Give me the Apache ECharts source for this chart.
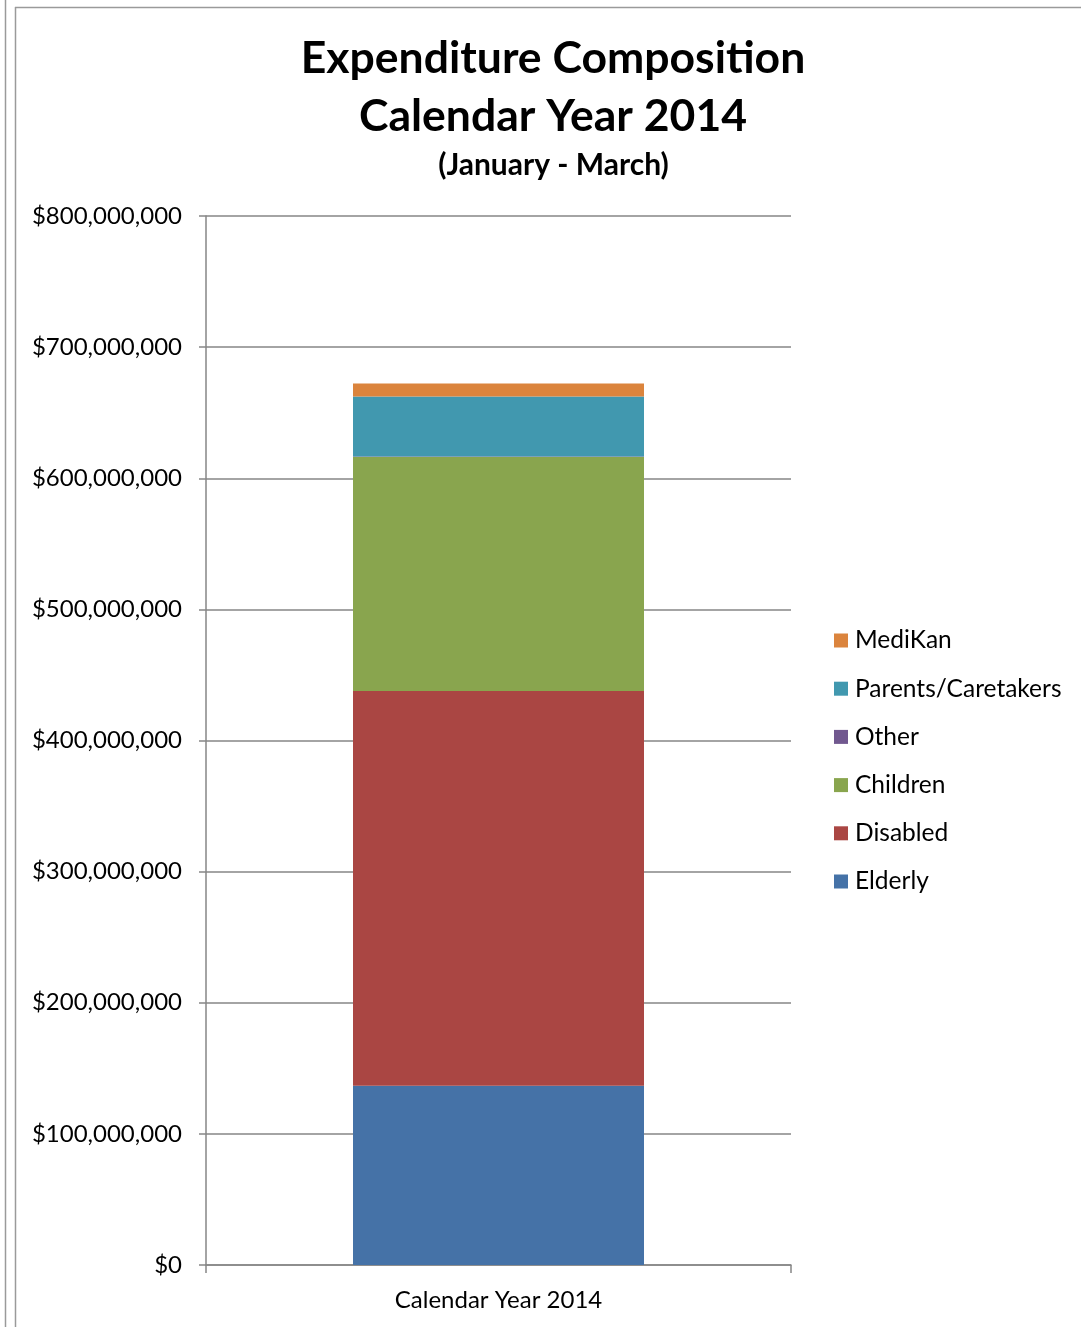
<!DOCTYPE html>
<html>
<head>
<meta charset="utf-8">
<script src="https://cdn.jsdelivr.net/npm/echarts@6/dist/echarts.min.js"></script>
<style>
html,body{margin:0;padding:0;background:#fff;}
#chart{width:1081px;height:1327px;}
</style>
</head>
<body>
<div id="chart"></div>
<script>
const categories = ['Calendar Year 2014'];
const seriesNames = ['Elderly', 'Disabled', 'Children', 'Other', 'Parents/Caretakers', 'MediKan'];
const elderly = [136700000];
const disabled = [301000000];
const children = [178500000];
const other = [300000];
const parents = [45800000];
const mediKan = [9900000];
const legendOrder = ['MediKan', 'Parents/Caretakers', 'Other', 'Children', 'Disabled', 'Elderly'];
const yTicks = [0, 100000000, 200000000, 300000000, 400000000, 500000000, 600000000, 700000000, 800000000];

const colors = {
  'Elderly': '#4572a7',
  'Disabled': '#aa4643',
  'Children': '#89a54e',
  'Other': '#71588f',
  'Parents/Caretakers': '#4198af',
  'MediKan': '#db843d'
};
const dataByName = {
  'Elderly': elderly, 'Disabled': disabled, 'Children': children,
  'Other': other, 'Parents/Caretakers': parents, 'MediKan': mediKan
};
const FONT = 'Lato, "Open Sans", sans-serif';
const chart = echarts.init(document.getElementById('chart'));
chart.setOption({
  animation: false,
  backgroundColor: '#fff',
  title: [
    { text: 'Expenditure Composition\nCalendar Year 2014', left: 553, textAlign: 'center', top: 30, padding: 0,
      textStyle: { fontFamily: FONT, fontSize: 44.5, fontWeight: 'bold', color: '#000', lineHeight: 58 } },
    { text: '(January - March)', left: 553.5, textAlign: 'center', top: 150, padding: 0,
      textStyle: { fontFamily: FONT, fontSize: 30, fontWeight: 'bold', color: '#000' } }
  ],
  legend: {
    orient: 'vertical', left: 834, top: 628, padding: 0,
    data: legendOrder, itemWidth: 14, itemHeight: 14, itemGap: 23.2,
    icon: 'rect',
    textStyle: { fontFamily: FONT, fontSize: 24.5, color: '#000', lineHeight: 24, padding: [0,0,0,2] }
  },
  grid: { left: 206, right: 290, top: 216, bottom: 62 },
  xAxis: {
    type: 'category', data: categories,
    axisLine: { lineStyle: { color: '#868686', width: 1.5 } },
    axisTick: { show: true, length: 8, lineStyle: { color: '#868686', width: 1.5 } },
    axisLabel: { fontFamily: FONT, fontSize: 24, color: '#000', margin: 23 }
  },
  yAxis: {
    type: 'value', min: 0, max: 800000000, interval: 100000000,
    axisLine: { show: true, lineStyle: { color: '#868686', width: 1.5 } },
    axisTick: { show: true, length: 7, lineStyle: { color: '#868686', width: 1.5 } },
    splitLine: { lineStyle: { color: '#868686', width: 1.5 } },
    axisLabel: {
      fontFamily: FONT, fontSize: 24, color: '#000', margin: 24,
      formatter: v => yTicks.includes(v) ? '$' + v.toLocaleString('en-US') : ''
    }
  },
  series: seriesNames.map(n => ({
    name: n, type: 'bar', stack: 'total', data: dataByName[n], barWidth: 291,
    itemStyle: { color: colors[n] }
  })),
  graphic: [
    { type: 'line', shape: { x1: 5.5, y1: 0, x2: 5.5, y2: 1327 }, style: { stroke: '#9a9a9a', lineWidth: 1.5 } },
    { type: 'line', shape: { x1: 15.5, y1: 7, x2: 15.5, y2: 1327 }, style: { stroke: '#9a9a9a', lineWidth: 1.5 } },
    { type: 'line', shape: { x1: 15, y1: 7.5, x2: 1081, y2: 7.5 }, style: { stroke: '#9a9a9a', lineWidth: 1.5 } }
  ]
});
</script>
</body>
</html>
